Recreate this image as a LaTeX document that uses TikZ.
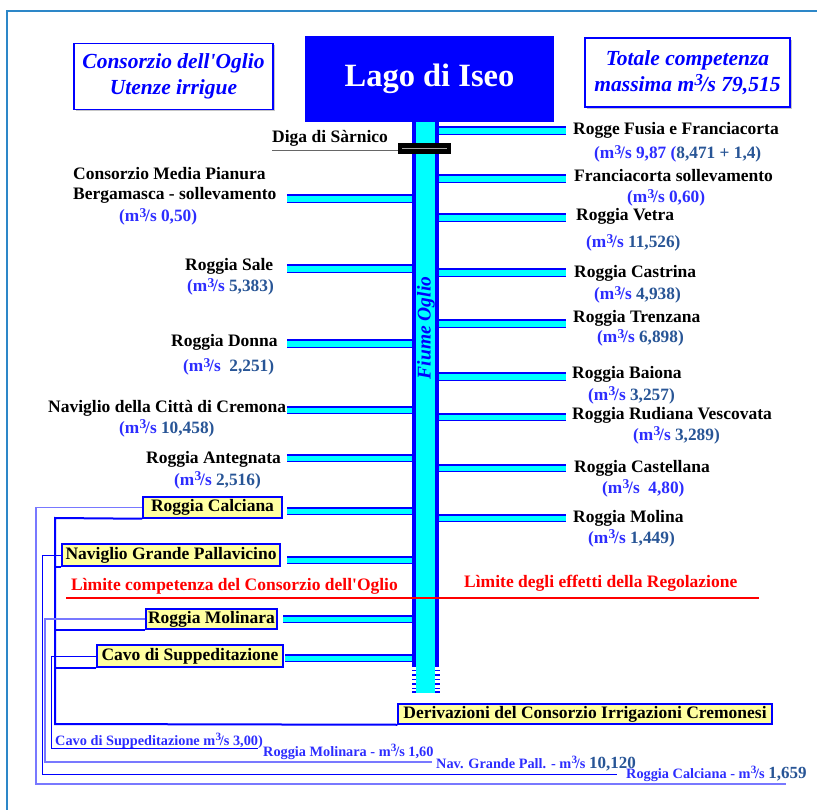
\documentclass[tikz,border=0pt]{standalone}
\usepackage{fontspec}
\setmainfont{Liberation Serif}
\usetikzlibrary{shadows}
\definecolor{frameblue}{RGB}{45,135,200}
\definecolor{rivercyan}{RGB}{0,255,255}
\definecolor{pureblue}{RGB}{0,0,255}
\definecolor{txtblue}{RGB}{45,45,255}
\definecolor{numcol}{RGB}{40,85,150}
\definecolor{boxyellow}{RGB}{255,255,160}
\definecolor{lightline}{RGB}{120,120,255}
\definecolor{purered}{RGB}{255,0,0}
\newcommand\fsL{\fontsize{17.5}{20}\selectfont\bfseries}
\newcommand\fsS{\fontsize{17.3}{18}\selectfont\bfseries}
\newcommand\fsT{\fontsize{21.5}{26}\selectfont\bfseries\itshape}
\newcommand\fsB{\fontsize{14.3}{16}\selectfont\bfseries}
\newcommand\fsN{\fontsize{17}{18}\selectfont\bfseries}
\newcommand\oglmcs{m\kern0.3pt\raisebox{0.62ex}{\scalebox{0.78}{3}}\kern-1.2pt/s}
\newcommand\oglnc[1]{\textcolor{numcol}{#1}}
\newcommand\oglq{\textquotesingle}
\newcommand\oglbr[3]{%
  \fill[rivercyan] (#1,#3-3.5) rectangle (#2,#3+3.5);
  \draw[pureblue,line width=2pt] (#1,#3-3.5) -- (#2,#3-3.5);
  \draw[pureblue,line width=1.4pt] (#1,#3+3.5) -- (#2,#3+3.5);}
\begin{document}
\begin{tikzpicture}[x=1pt,y=-1pt,
  lbl/.style={font=\fsL, inner sep=0pt, anchor=base west, text=black},
  sub/.style={font=\fsS, inner sep=0pt, anchor=base west, text=txtblue},
  ybox/.style={draw=pureblue, line width=1.5pt, fill=boxyellow, font=\fsL, inner sep=0pt},
  titlebox/.style={draw=pureblue, line width=1.8pt, fill=white, font=\fsT, text=pureblue,
    align=center, inner sep=0pt,
    drop shadow={shadow xshift=2pt, shadow yshift=-2pt, fill=gray!45, opacity=1}},
  tree/.style={draw=pureblue, line width=2pt},
  outA/.style={draw=lightline, line width=1.5pt},
  outB/.style={draw=pureblue, line width=1pt},
  bot/.style={font=\fsB, inner sep=0pt, anchor=base west, text=txtblue},
  redl/.style={font=\fsL, text=purered, inner sep=0pt, anchor=base west}]
\useasboundingbox (0,0) rectangle (817,810);
\fill[white] (0,0) rectangle (817,810);
% outer frame
\coordinate (frBL) at (7,810);
\coordinate (frTL) at (7,11);
\coordinate (frTR) at (817,11);
\draw[frameblue, line width=1.6pt] (frBL) -- (frTL) -- (frTR);

% right branches
\foreach \yy in {131,179,218,273,324,377,417,468,518} {\oglbr{439}{566}{\yy}}
% left branches
\foreach \yy in {199,269,344,410,458,511,560} {\oglbr{287}{412}{\yy}}
\oglbr{283}{412}{619}
\oglbr{285}{412}{658}

% river
\fill[rivercyan] (416,122) rectangle (435,693);
\fill[pureblue] (412,122) rectangle (416,667);
\fill[pureblue] (435,122) rectangle (439,667);
\foreach \d in {670.5,675,679.5,684,688.5,692.2} {
  \fill[pureblue] (411.5,\d-0.8) rectangle (416,\d+0.8);
  \fill[pureblue] (435,\d-0.8) rectangle (439.5,\d+0.8);}
\node[rotate=90, font=\fontsize{19.5}{20}\selectfont\bfseries\itshape, text=pureblue, inner sep=0pt] (fiume) at (426,328) {Fiume Oglio};

% lake
\node[fill=pureblue, minimum width=249pt, minimum height=86pt, inner sep=0pt,
  text=white, font=\fontsize{32.5}{36}\selectfont\bfseries] (lake) at (429.5,79) {Lago di Iseo};

% title boxes
\node[titlebox, minimum width=199pt, minimum height=66pt] (tleft) at (173.5,76.5)
  {Consorzio dell\oglq Oglio\\Utenze irrigue};
\node[titlebox, minimum width=205pt, minimum height=69pt] (tright) at (687.5,72.5)
  {Totale competenza\\massima \oglmcs{} 79,515};

% dam
\node[lbl] (diga) at (272,143) {Diga di Sàrnico};
\node[fill=black, minimum width=53pt, minimum height=11pt, inner sep=0pt] (dam) at (424.5,148.5) {};
\draw[gray!70, line width=1.6pt] ([xshift=4pt]dam.west) -- ([xshift=-4pt]dam.east);
\coordinate (digaU) at (272,150);
\draw[gray!80!black, line width=0.8pt] (digaU) -- (dam.west |- digaU);

% right labels
\node[lbl] (r1) at (573,135) {Rogge Fusia e Franciacorta};
\node[sub] (r1s) at (594,159) {(\oglmcs{} 9,87 (\oglnc{8,471 + 1,4)}};
\node[lbl] (r2) at (574,182) {Franciacorta sollevamento};
\node[sub] (r2s) at (627,203) {(\oglmcs{} 0,60)};
\node[lbl] (r3) at (576,221) {Roggia Vetra};
\node[sub] (r3s) at (586,248) {(\oglmcs{} \oglnc{11,526)}};
\node[lbl] (r4) at (574,278) {Roggia Castrina};
\node[sub] (r4s) at (594,300) {(\oglmcs{} \oglnc{4,938)}};
\node[lbl] (r5) at (573,323) {Roggia Trenzana};
\node[sub] (r5s) at (597,343) {(\oglmcs{} \oglnc{6,898)}};
\node[lbl] (r6) at (572,378) {Roggia Baiona};
\node[sub] (r6s) at (588,400) {(\oglmcs{} \oglnc{3,257)}};
\node[lbl] (r7) at (572,419) {Roggia Rudiana Vescovata};
\node[sub] (r7s) at (633,440) {(\oglmcs{} \oglnc{3,289)}};
\node[lbl] (r8) at (574,472) {Roggia Castellana};
\node[sub] (r8s) at (602,493) {(\oglmcs{}\ \ 4,80)};
\node[lbl] (r9) at (573,522) {Roggia Molina};
\node[sub] (r9s) at (588,543) {(\oglmcs{} \oglnc{1,449)}};

% left labels
\node[lbl] (l1a) at (73,180) {Consorzio Media Pianura};
\node[lbl] (l1b) at (73,200) {Bergamasca - sollevamento};
\node[sub] (l1s) at (119,222) {(\oglmcs{} 0,50)};
\node[lbl] (l2) at (185,271) {Roggia Sale};
\node[sub] (l2s) at (187,292) {(\oglmcs{} \oglnc{5,383)}};
\node[lbl] (l3) at (171,347) {Roggia Donna};
\node[sub] (l3s) at (183,372) {(\oglmcs{}\ \ \oglnc{2,251)}};
\node[lbl] (l4) at (48,413) {Naviglio della Città di Cremona};
\node[sub] (l4s) at (119,433) {(\oglmcs{} \oglnc{10,458)}};
\node[lbl] (l5) at (146,463) {Roggia Antegnata};
\node[sub] (l5s) at (174,485) {(\oglmcs{} \oglnc{2,516)}};

% red limit
\coordinate (redA) at (66,598);
\coordinate (redB) at (759,598);
\draw[purered, line width=1.5pt] (redA) -- (redB);
\node[redl] (lim1) at (71,590) {Lìmite competenza del Consorzio dell\oglq Oglio};
\node[redl] (lim2) at (464,587) {Lìmite degli effetti della Regolazione};

% yellow boxes
\node[ybox, minimum width=139pt, minimum height=21pt] (calc) at (212.5,507.5) {Roggia Calciana};
\node[ybox, minimum width=218pt, minimum height=22pt] (navg) at (171,555) {Naviglio Grande Pallavicino};
\node[ybox, minimum width=131pt, minimum height=20pt] (molin) at (211.5,619) {Roggia Molinara};
\node[ybox, minimum width=186pt, minimum height=22pt] (cavo) at (190,656) {Cavo di Suppeditazione};
\node[ybox, minimum width=374pt, minimum height=20pt] (deriv) at (585,714) {Derivazioni del Consorzio Irrigazioni Cremonesi};

% tree of Cremonesi derivations
\coordinate (trTop) at (55,518);
\coordinate (trBot) at (55,724);
\draw[tree] (calc.south west) -- (trTop) -- (trBot) -- (deriv.south west);
\draw[tree] (navg.south west) -- (navg.south west -| trTop);
\draw[tree] (molin.south west) -- (molin.south west -| trTop);
\draw[tree] (cavo.south west) -- (cavo.south west -| trTop);

% output lines
\coordinate (calcC) at (36,784);  \coordinate (calcE) at (786,784);
\coordinate (navgC) at (42,774);  \coordinate (navgE) at (617,774);
\coordinate (molC) at (45,762);   \coordinate (molE) at (432,762);
\coordinate (cavoC) at (51,748);  \coordinate (cavoE) at (258,748);
\draw[outA] (calc.west) -| (calcC) -- (calcE);
\draw[outB] (navg.west) -| (navgC) -- (navgE);
\draw[outA] (molin.west) -| (molC) -- (molE);
\draw[outB] (cavo.west) -| (cavoC) -- (cavoE);

\node[bot] (cavoLbl) at (55,745) {Cavo di Suppeditazione \oglmcs{} 3,00)};
\node[bot] (molLbl) at (263,756) {Roggia Molinara - \oglmcs{} 1,60};
\node[bot] (navLbl) at (436,768) {Nav. Grande Pall. - \oglmcs{} {\fsN\oglnc{10,120}}};
\node[bot] (calLbl) at (626,778) {Roggia Calciana - \oglmcs{} {\fsN\oglnc{1,659}}};
\end{tikzpicture}
\end{document}
